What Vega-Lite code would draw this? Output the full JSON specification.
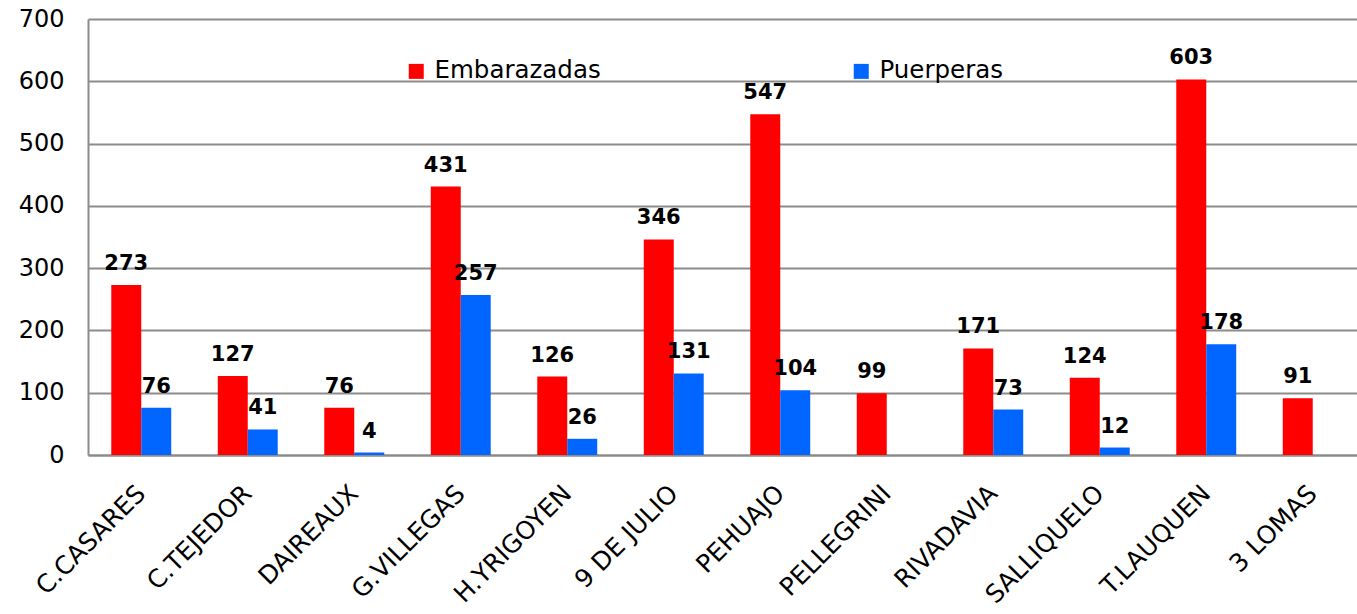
{
  "$schema": "https://vega.github.io/schema/vega-lite/v6.json",
  "width": 1269,
  "height": 436,
  "autosize": {"type": "none"},
  "padding": {"left": 88, "top": 19, "right": 0, "bottom": 159},
  "background": "white",
  "config": {"view": {"stroke": null}, "font": "DejaVu Sans"},
  "data": {
    "values": [
      {"localidad": "C.CASARES", "serie": "Embarazadas", "valor": 273},
      {"localidad": "C.CASARES", "serie": "Puerperas", "valor": 76},
      {"localidad": "C.TEJEDOR", "serie": "Embarazadas", "valor": 127},
      {"localidad": "C.TEJEDOR", "serie": "Puerperas", "valor": 41},
      {"localidad": "DAIREAUX", "serie": "Embarazadas", "valor": 76},
      {"localidad": "DAIREAUX", "serie": "Puerperas", "valor": 4},
      {"localidad": "G.VILLEGAS", "serie": "Embarazadas", "valor": 431},
      {"localidad": "G.VILLEGAS", "serie": "Puerperas", "valor": 257},
      {"localidad": "H.YRIGOYEN", "serie": "Embarazadas", "valor": 126},
      {"localidad": "H.YRIGOYEN", "serie": "Puerperas", "valor": 26},
      {"localidad": "9 DE JULIO", "serie": "Embarazadas", "valor": 346},
      {"localidad": "9 DE JULIO", "serie": "Puerperas", "valor": 131},
      {"localidad": "PEHUAJO", "serie": "Embarazadas", "valor": 547},
      {"localidad": "PEHUAJO", "serie": "Puerperas", "valor": 104},
      {"localidad": "PELLEGRINI", "serie": "Embarazadas", "valor": 99},
      {"localidad": "RIVADAVIA", "serie": "Embarazadas", "valor": 171},
      {"localidad": "RIVADAVIA", "serie": "Puerperas", "valor": 73},
      {"localidad": "SALLIQUELO", "serie": "Embarazadas", "valor": 124},
      {"localidad": "SALLIQUELO", "serie": "Puerperas", "valor": 12},
      {"localidad": "T.LAUQUEN", "serie": "Embarazadas", "valor": 603},
      {"localidad": "T.LAUQUEN", "serie": "Puerperas", "valor": 178},
      {"localidad": "3 LOMAS", "serie": "Embarazadas", "valor": 91}
    ]
  },
  "encoding": {
    "x": {
      "field": "localidad",
      "type": "nominal",
      "sort": null,
      "scale": {"range": [0, 1278], "paddingInner": 0.437, "paddingOuter": 0.2185},
      "axis": {
        "title": null,
        "domain": true,
        "domainColor": "#8c8c8c",
        "domainWidth": 2,
        "ticks": false,
        "grid": false,
        "labelAngle": -45,
        "labelAlign": "right",
        "labelBaseline": "middle",
        "labelFontSize": 25,
        "labelColor": "#000000",
        "labelPadding": 34,
        "labelLimit": 400
      }
    },
    "xOffset": {
      "field": "serie",
      "type": "nominal",
      "sort": ["Embarazadas", "Puerperas"],
      "scale": {"paddingInner": 0, "paddingOuter": 0}
    },
    "y": {
      "field": "valor",
      "type": "quantitative",
      "scale": {"domain": [0, 700], "nice": false},
      "axis": {
        "title": null,
        "values": [0, 100, 200, 300, 400, 500, 600, 700],
        "grid": true,
        "gridColor": "#8c8c8c",
        "gridWidth": 2,
        "domain": true,
        "domainColor": "#8c8c8c",
        "domainWidth": 2,
        "ticks": false,
        "labelFontSize": 24,
        "labelColor": "#000000",
        "labelPadding": 24
      }
    }
  },
  "layer": [
    {
      "mark": {"type": "bar"},
      "encoding": {
        "color": {
          "field": "serie",
          "type": "nominal",
          "scale": {"domain": ["Embarazadas", "Puerperas"], "range": ["#ff0000", "#0066ff"]},
          "legend": {
            "title": null,
            "orient": "none",
            "legendX": 316,
            "legendY": 40,
            "direction": "horizontal",
            "columns": 2,
            "columnPadding": 248,
            "padding": 0,
            "symbolType": "square",
            "symbolSize": 225,
            "symbolStrokeWidth": 0,
            "labelFontSize": 24.5,
            "labelLimit": 400,
            "labelColor": "#000000",
            "labelOffset": 6,
            "labelFont": "DejaVu Sans"
          }
        }
      }
    },
    {
      "mark": {
        "type": "text",
        "fontWeight": "bold",
        "fontSize": 21,
        "dy": -15,
        "baseline": "alphabetic",
        "color": "#000000"
      },
      "encoding": {"text": {"field": "valor", "type": "quantitative"}}
    }
  ]
}
